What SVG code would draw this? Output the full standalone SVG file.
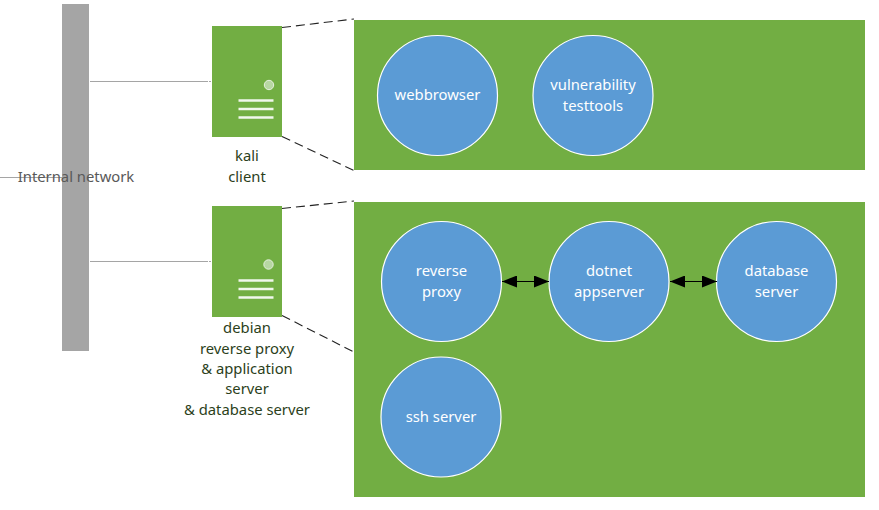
<svg xmlns="http://www.w3.org/2000/svg" width="879" height="510" viewBox="0 0 879 510">
<style>
text{font-family:"Noto Sans","Open Sans","Liberation Sans",sans-serif;font-size:14.8px;text-anchor:middle}
.lbl{fill:#2c3f1b}
.w{fill:#fff}
.c{fill:#5b9bd5;stroke:#fff;stroke-width:1.2}
.g{fill:#72ae43}
.net{stroke:#a5a5a5;stroke-width:1;fill:none}
.dash{stroke:#222;stroke-width:1.1;stroke-dasharray:9 5;fill:none}
.bar{stroke:#fff;stroke-width:2.4;opacity:.9}
.arr{stroke:#000;stroke-width:1.2;marker-start:url(#a);marker-end:url(#a)}
</style>
<defs>
<marker id="a" viewBox="0 0 15 12" refX="15" refY="6" markerUnits="userSpaceOnUse" markerWidth="15" markerHeight="12" orient="auto-start-reverse"><path d="M0 0L15 6L0 12Z" fill="#000"/></marker>
</defs>
<g id="connectors">
<path class="net" d="M0 177.500H62M90 81.500H208M209 81.500H211M90 261.500H208M209 261.500H211"/>
<path class="dash" d="M282 27.500L354 19M282 136.500L354 170.500M282 208.500L354 201M282 315.500L354 352"/>
</g>
<g id="network"><rect x="62" y="4" width="27" height="347" fill="#a5a5a5"/><text x="76" y="182" fill="#595959">Internal network</text></g>
<g id="kali">
<rect class="g" x="212" y="26" width="70" height="111"/>
<circle cx="269" cy="85" r="4.700" fill="#b7d7a3" stroke="#e6f0df" stroke-width="1"/>
<path class="bar" d="M238.500 100.500H273.500"/><path class="bar" d="M238.500 109H273.500" stroke-width="3"/><path class="bar" d="M238.500 117.500H273.500"/>
<text class="lbl" x="247" y="161">kali</text><text class="lbl" x="247" y="182">client</text>
</g>
<g id="debian">
<rect class="g" x="212" y="206" width="70" height="111"/>
<circle cx="268.500" cy="264.500" r="4.700" fill="#b7d7a3" stroke="#e6f0df" stroke-width="1"/>
<path class="bar" d="M238.500 280.500H273.500"/><path class="bar" d="M238.500 289H273.500" stroke-width="3"/><path class="bar" d="M238.500 297.500H273.500"/>
<text class="lbl" x="247" y="333">debian</text><text class="lbl" x="247" y="354">reverse proxy</text><text class="lbl" x="247" y="374">&amp; application</text><text class="lbl" x="247" y="394">server</text><text class="lbl" x="247" y="415">&amp; database server</text>
</g>
<g id="kali-panel"><rect class="g" x="354" y="20" width="511" height="150"/></g>
<g id="debian-panel"><rect class="g" x="354" y="202" width="511" height="295"/></g>
<g id="webbrowser"><circle class="c" cx="437.500" cy="95.500" r="60"/><text class="w" x="437.500" y="100">webbrowser</text></g>
<g id="vulnerability"><circle class="c" cx="593" cy="95.500" r="60"/><text class="w" x="593" y="90">vulnerability</text><text class="w" x="593" y="111">testtools</text></g>
<g id="reverse-proxy"><circle class="c" cx="441.500" cy="281.500" r="60"/><text class="w" x="441.500" y="276">reverse</text><text class="w" x="441.500" y="297">proxy</text></g>
<g id="dotnet"><circle class="c" cx="609" cy="281.500" r="60"/><text class="w" x="609" y="276">dotnet</text><text class="w" x="609" y="297">appserver</text></g>
<g id="database"><circle class="c" cx="776.500" cy="281.500" r="60"/><text class="w" x="776.500" y="276">database</text><text class="w" x="776.500" y="297">server</text></g>
<g id="ssh"><circle class="c" cx="441" cy="417" r="60"/><text class="w" x="441" y="422">ssh server</text></g>
<g id="arrows">
<path class="arr" d="M502 281.500H549"/><path class="arr" d="M670 281.500H717"/>
</g>
</svg>
